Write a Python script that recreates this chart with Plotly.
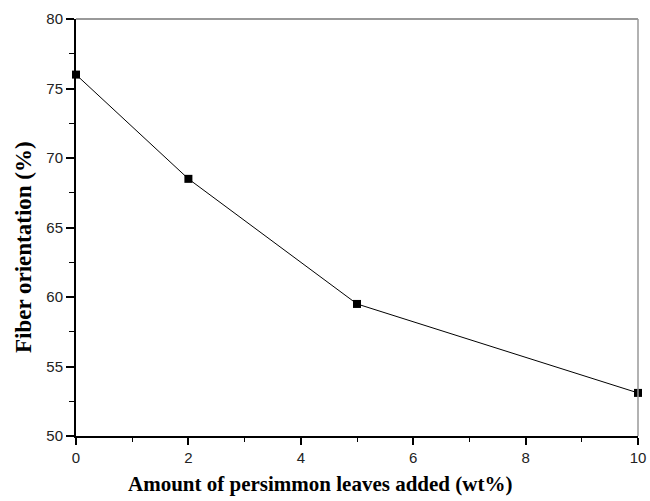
import plotly.graph_objects as go

x_vals = [0, 2, 5, 10]
y_vals = [76.0, 68.5, 59.5, 53.1]
x_title = "Amount of persimmon leaves added (wt%)"
y_title = "Fiber orientation (%)"

W, H = 650, 501
L, R, T, B = 76, 12, 19, 65

fig = go.Figure()
fig.add_trace(go.Scatter(
    x=x_vals, y=y_vals, mode="lines+markers",
    line=dict(color="black", width=1),
    marker=dict(symbol="square", size=8, color="black"),
    cliponaxis=False, showlegend=False,
))

tick_font = dict(family="Liberation Sans, Arial, sans-serif", size=15, color="#222")
title_font = dict(family="Liberation Serif, Times New Roman, serif", size=21, color="black")

fig.update_xaxes(
    range=[0, 10], tickmode="linear", tick0=0, dtick=2,
    ticks="outside", ticklen=7, tickwidth=1.5, tickcolor="black",
    minor=dict(ticks="outside", ticklen=4, dtick=1, tickcolor="black", tickwidth=1),
    showline=True, linecolor="black", linewidth=2, mirror=False,
    showgrid=False, zeroline=False, tickfont=tick_font, automargin=False,
)
fig.update_yaxes(
    range=[50, 80], tickmode="linear", tick0=50, dtick=5,
    ticks="outside", ticklen=8, tickwidth=1.5, tickcolor="black",
    minor=dict(ticks="outside", ticklen=5, dtick=2.5, tickcolor="black", tickwidth=1),
    showline=True, linecolor="black", linewidth=2, mirror=False,
    showgrid=False, zeroline=False, tickfont=tick_font, automargin=False,
)

# gray frame on top and right
fig.add_shape(type="line", xref="paper", yref="paper", x0=0, x1=1, y0=1, y1=1,
              line=dict(color="#777", width=1.5))
fig.add_shape(type="line", xref="paper", yref="paper", x0=1, x1=1, y0=0, y1=1,
              line=dict(color="#999", width=1.5))

pw, ph = W - L - R, H - T - B
def px_to_paper(px, py):
    return (px - L) / pw, 1 - (py - T) / ph

ax, ay = px_to_paper(320, 484)
bx, by = px_to_paper(23, 247)
fig.add_annotation(text="<b>" + x_title + "</b>", x=ax, y=ay, xref="paper", yref="paper",
                   showarrow=False, font=title_font, xanchor="center", yanchor="middle")
fig.add_annotation(text="<b>" + y_title + "</b>", x=bx, y=by, xref="paper", yref="paper",
                   showarrow=False, font=dict(title_font, size=23), textangle=-90,
                   xanchor="center", yanchor="middle")

fig.update_layout(
    width=W, height=H,
    margin=dict(l=L, r=R, t=T, b=B, autoexpand=False),
    paper_bgcolor="white", plot_bgcolor="white",
)

fig.write_html("out.html")
